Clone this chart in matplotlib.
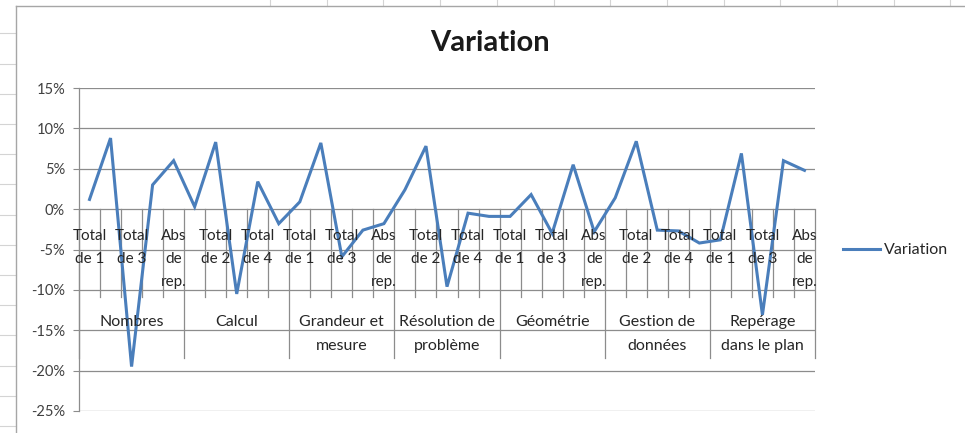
import matplotlib
matplotlib.use("Agg")
import matplotlib.pyplot as plt
import matplotlib.transforms as mtransforms
from matplotlib.ticker import FuncFormatter, MultipleLocator

plt.rcParams['font.family'] = ['Lato', 'DejaVu Sans']
plt.rcParams['axes.unicode_minus'] = False

# data
groups = ["Nombres", "Calcul", "Grandeur et\nmesure", "Résolution de\nproblème",
          "Géométrie", "Gestion de\ndonnées", "Repérage\ndans le plan"]
sub_labels = ["Total\nde 1", "Total\nde 2", "Total\nde 3", "Total\nde 4", "Abs\nde\nrep."]
variation = [1.2, 8.8, -19.5, 3.0, 6.0,
             0.3, 8.3, -10.5, 3.4, -1.8,
             0.9, 8.2, -5.9, -2.6, -1.8,
             2.4, 7.8, -9.6, -0.5, -0.9,
             -0.9, 1.8, -3.0, 5.5, -2.8,
             1.4, 8.4, -2.6, -2.7, -4.2,
             -3.8, 6.9, -13.1, 6.0, 4.8]

W, H = 965, 433
fig = plt.figure(figsize=(W / 100, H / 100), dpi=100)

# spreadsheet background behind the chart
for k in range(14):
    y = 33.3 + 30.2 * k
    fig.add_artist(plt.Line2D([0, 16 / W], [1 - y / H] * 2, color='#d4d4d4', lw=0.8))
x = 270
while x < W:
    fig.add_artist(plt.Line2D([x / W] * 2, [1, 1 - 6 / H], color='#d4d4d4', lw=0.8))
    x += 56.7
# chart area border
fig.add_artist(plt.Line2D([16 / W, 16 / W], [0, 1 - 6 / H], color='#a6a6a6', lw=1))
fig.add_artist(plt.Line2D([16 / W, 1], [1 - 6 / H] * 2, color='#a6a6a6', lw=1))

left, right, top, bottom = 79, 815, 88, 411
ax = fig.add_axes([left / W, 1 - bottom / H, (right - left) / W, (bottom - top) / H])

n = len(variation)
xs = list(range(n))
ax.plot(xs, [v / 100 for v in variation], color='#4a7ebb', lw=2.2, label='Variation',
        solid_joinstyle='miter', zorder=3)

ax.set_xlim(-0.5, n - 0.5)
ax.set_ylim(-0.25, 0.15)
ax.yaxis.set_major_locator(MultipleLocator(0.05))
ax.yaxis.set_major_formatter(FuncFormatter(lambda v, p: f"{int(round(v * 100))}%"))
ax.tick_params(axis='y', labelsize=10.5, colors='#8c8c8c', length=4, width=0.8, pad=6)
ax.tick_params(axis='y', labelcolor='#404040')
ax.set_xticks([])
ax.grid(axis='y', color='#8c8c8c', lw=0.9)
ax.set_axisbelow(True)
for s in ['top', 'right', 'bottom']:
    ax.spines[s].set_visible(False)
ax.spines['left'].set_color('#8c8c8c')
ax.spines['left'].set_linewidth(0.9)

# multi level category labels
trans = mtransforms.blended_transform_factory(ax.transData, ax.transAxes)
def fy(py):
    return (bottom - py) / (bottom - top)

y_axis = fy(209)
for i in range(n + 1):
    xb = i - 0.5
    if i % 5 == 0:
        ax.plot([xb, xb], [y_axis, fy(358)], transform=trans, color='#8c8c8c', lw=0.9, clip_on=False)
    else:
        ax.plot([xb, xb], [y_axis, fy(297)], transform=trans, color='#8c8c8c', lw=0.9, clip_on=False)

line_y = [fy(236), fy(259), fy(282)]
for i in range(0, n, 2):
    lab = sub_labels[i % 5].split("\n")
    for j, part in enumerate(lab):
        ax.text(i, line_y[j], part, transform=trans, ha='center', va='center',
                fontsize=11, color='#262626')

grp_y = [fy(322), fy(346)]
for g, name in enumerate(groups):
    for j, part in enumerate(name.split("\n")):
        ax.text(g * 5 + 2, grp_y[j], part, transform=trans, ha='center', va='center',
                fontsize=11.5, color='#262626')

fig.text(490 / W, 1 - 43 / H, "Variation", ha='center', va='center',
         fontsize=21, fontweight='bold', color='#1a1a1a')

ax.legend(loc='center left', bbox_to_anchor=((843 - left) / (right - left), fy(250)),
          frameon=False, borderpad=0, borderaxespad=0, handlelength=2.3,
          handletextpad=0.25, fontsize=11.5, labelcolor='#262626')

fig.savefig("out.png", dpi=100)
